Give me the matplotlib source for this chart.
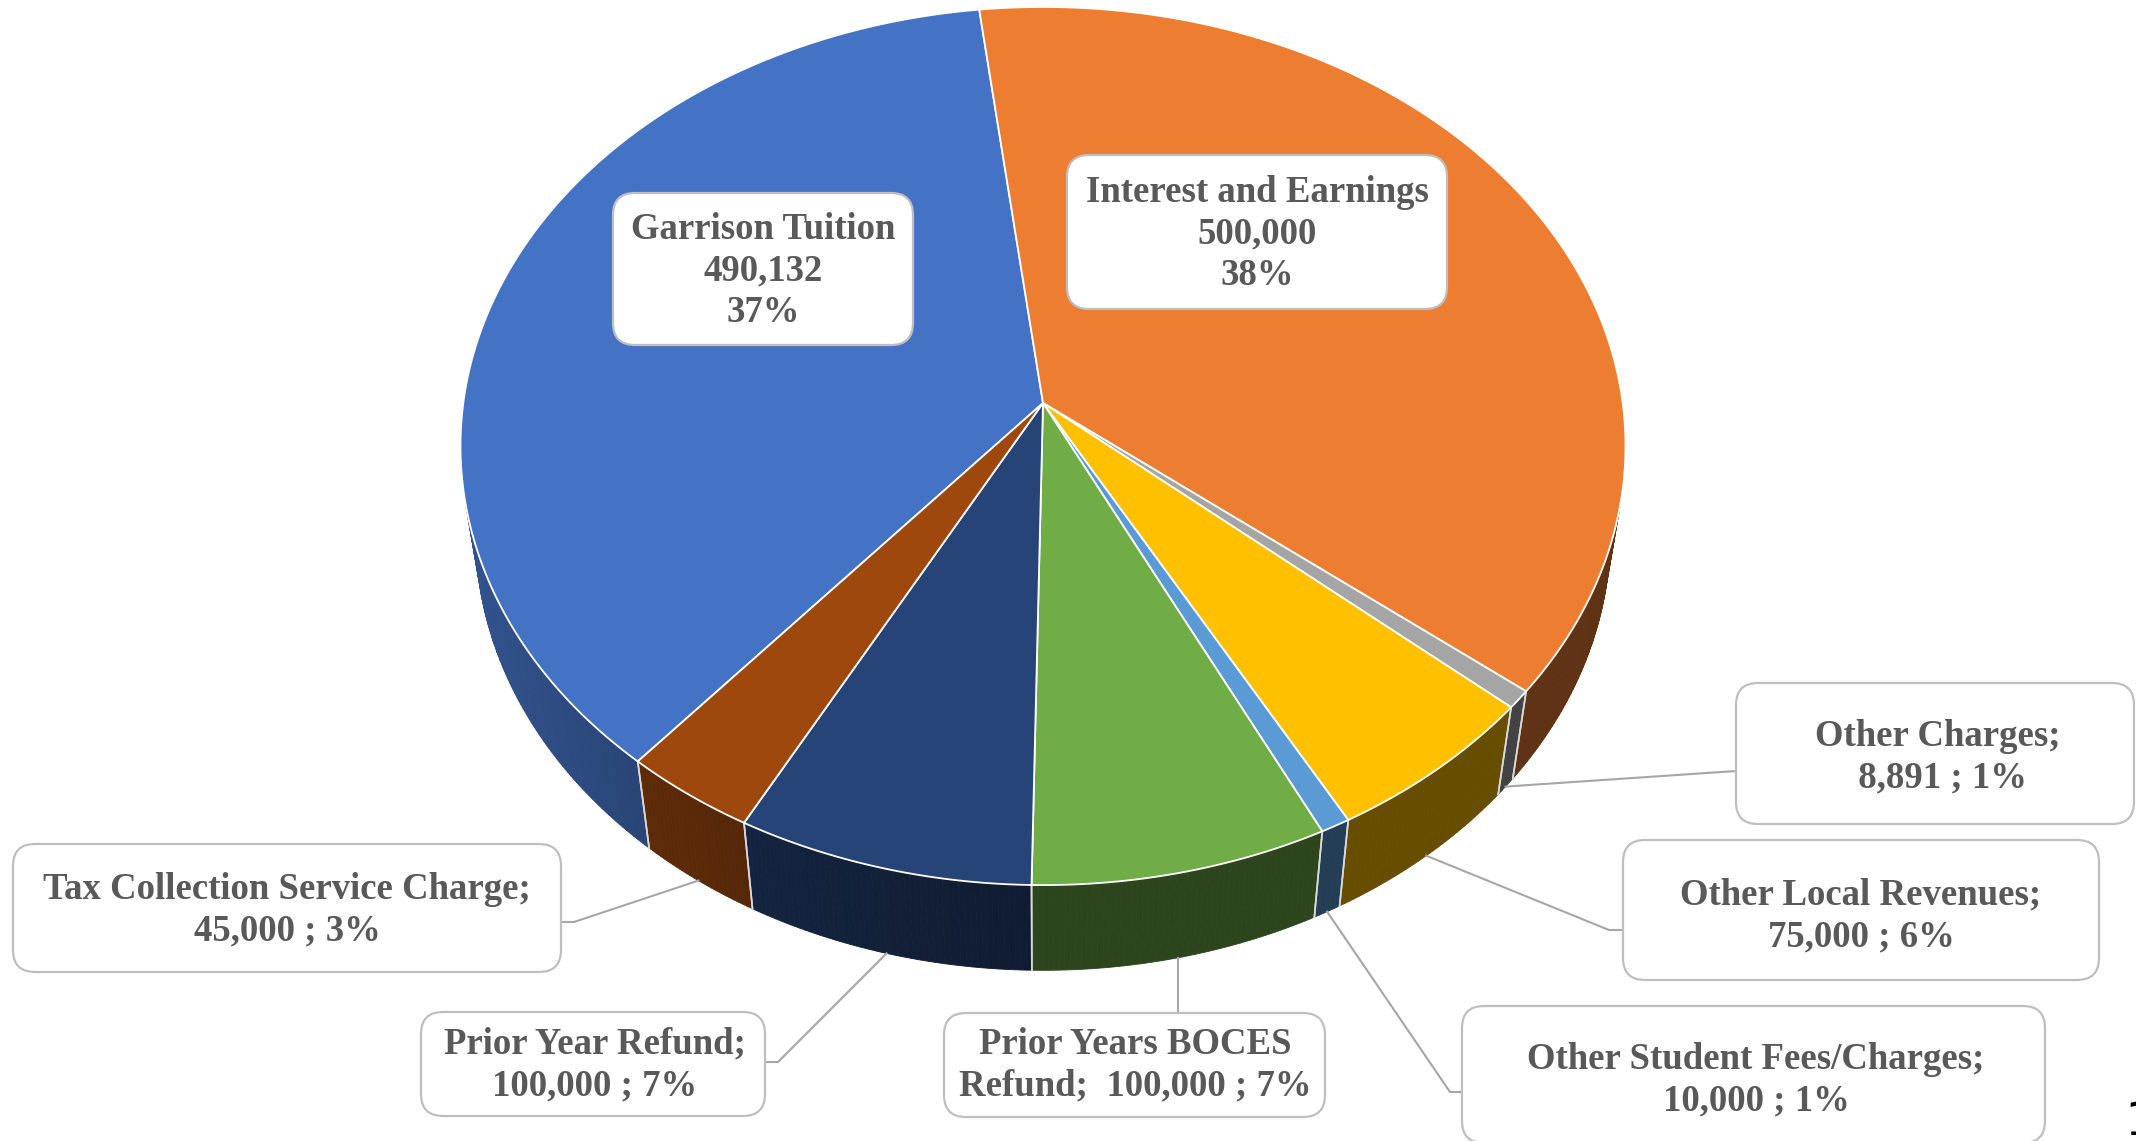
import numpy as np
import matplotlib
matplotlib.use("Agg")
import matplotlib.pyplot as plt
from matplotlib.patches import Polygon, FancyBboxPatch
from matplotlib.colors import to_rgb

# revenue sources, in series order
categories = ["Garrison Tuition", "Interest and Earnings", "Other Charges",
              "Other Local Revenues", "Other Student Fees/Charges",
              "Prior Years BOCES Refund", "Prior Year Refund",
              "Tax Collection Service Charge"]
amounts = [490132, 500000, 8891, 75000, 10000, 100000, 100000, 45000]
pct_labels = [37, 38, 1, 6, 1, 7, 7, 3]
colors = ["#4472C4", "#ED7D31", "#A5A5A5", "#FFC000",
          "#5B9BD5", "#70AD47", "#264478", "#9E480E"]

W, H = 2136, 1141

# simple perspective camera looking down on a unit disc
FOCAL, DIST = 3913.0, 6.75
ELEV = np.radians(48.6)
THICK = 0.24
CX, CY = 1043.0, 403.0
START = np.radians(229.7)   # first slice begins here, slices run clockwise


def project(theta, z=0.0, r=1.0):
    s, c = np.sin(ELEV), np.cos(ELEV)
    x = r * np.cos(theta)
    y = r * np.sin(theta)
    d = DIST + y * c - z * s
    return CX + FOCAL * x / d, CY - FOCAL * (y * s + z * c) / d


def shade(color, k):
    return tuple(np.clip(np.array(to_rgb(color)) * k, 0, 1))


vals = np.array(amounts, dtype=float)
fracs = vals / vals.sum()
bounds = START - 2 * np.pi * np.concatenate([[0], np.cumsum(fracs)])

fig = plt.figure(figsize=(W / 100, H / 100), dpi=100)
ax = fig.add_axes([0, 0, 1, 1])
ax.set_xlim(0, W)
ax.set_ylim(H, 0)
ax.axis("off")

# the part of the rim that faces the camera
lim = np.arcsin(1.0 / (DIST * np.cos(ELEV)))
vis_lo, vis_hi = -np.pi + lim, -lim

# outer side of each slice, drawn in thin strips so the lighting can vary
for i in range(len(amounts)):
    a_hi, a_lo = bounds[i], bounds[i + 1]
    for k in (-2, -1, 0, 1):
        lo = max(a_lo + k * 2 * np.pi, vis_lo)
        hi = min(a_hi + k * 2 * np.pi, vis_hi)
        if hi <= lo:
            continue
        ts = np.linspace(lo, hi, max(int(np.degrees(hi - lo) * 2), 2) + 1)
        for t0, t1 in zip(ts[:-1], ts[1:]):
            tm = 0.5 * (t0 + t1)
            f = 0.40 + 0.34 * max(0.0, -np.cos(tm)) ** 1.2
            col = shade(colors[i], f)
            pts = [project(t0, 0), project(t1, 0),
                   project(t1, -THICK), project(t0, -THICK)]
            ax.add_patch(Polygon(pts, closed=True, fc=col, ec=col, lw=0.6, zorder=2))
        # seam lines between slices on the side
        for t in (lo, hi):
            if vis_lo + 1e-3 < t < vis_hi - 1e-3:
                p0, p1 = project(t, 0), project(t, -THICK)
                ax.plot([p0[0], p1[0]], [p0[1], p1[1]], color="#D9D9D9",
                        lw=1.2, zorder=3)

# top faces
for i in range(len(amounts)):
    ts = np.linspace(bounds[i], bounds[i + 1], 200)
    xs, ys = project(ts, 0)
    pts = [(CX, CY)] + list(zip(xs, ys))
    ax.add_patch(Polygon(pts, closed=True, fc=colors[i], ec="white",
                         lw=1.3, joinstyle="round", zorder=4))

# data labels
label_txt = []
for i, name in enumerate(categories):
    if i < 2:
        label_txt.append(f"{name}\n{amounts[i]:,}\n{pct_labels[i]}%")
    else:
        label_txt.append(f"{name};\n{amounts[i]:,} ; {pct_labels[i]}%")
label_txt[2] = f"{categories[2]};\n {amounts[2]:,} ; {pct_labels[2]}%"
label_txt[5] = f"Prior Years BOCES\nRefund;  {amounts[5]:,} ; {pct_labels[5]}%"

boxes = [(613, 193, 913, 345), (1067, 155, 1447, 309),
         (1736, 683, 2134, 824), (1623, 840, 2099, 980),
         (1462, 1006, 2045, 1143), (944, 1013, 1325, 1117),
         (421, 1012, 765, 1116), (13, 844, 561, 972)]
text_xy = [(763, 271), (1257, 234), (1938, 757), (1861, 916),
           (1756, 1080), (1135, 1065), (595, 1065), (287, 910)]
elbows = {2: [(1736, 771)], 3: [(1623, 930), (1609, 930)],
          4: [(1462, 1092), (1450, 1092)], 5: None,
          6: [(765, 1062), (778, 1062)], 7: [(561, 922), (574, 922)]}

for i, (x0, y0, x1, y1) in enumerate(boxes):
    ax.add_patch(FancyBboxPatch((x0, y0), x1 - x0, y1 - y0,
                                boxstyle="round,pad=0,rounding_size=22",
                                fc="white", ec="#BFBFBF", lw=1.6, zorder=6))
    ax.text(*text_xy[i], label_txt[i], ha="center", va="center",
            fontsize=26.5, fontweight="bold", family=["Liberation Serif"],
            color="#595959", linespacing=1.25, zorder=7)

for i, pts in elbows.items():
    mid = 0.5 * (bounds[i] + bounds[i + 1])
    ax_, ay_ = project(mid, -THICK)
    if pts is None:
        pts = [(ax_, boxes[i][1])]
    line = pts + [(ax_, ay_)]
    ax.plot([p[0] for p in line], [p[1] for p in line], color="#A6A6A6",
            lw=1.5, zorder=5)

ax.text(2124, 1100, "1", ha="left", va="top", fontsize=34,
        family=["DejaVu Sans Mono"], color="black", zorder=8)

fig.savefig("out.png", dpi=100)
